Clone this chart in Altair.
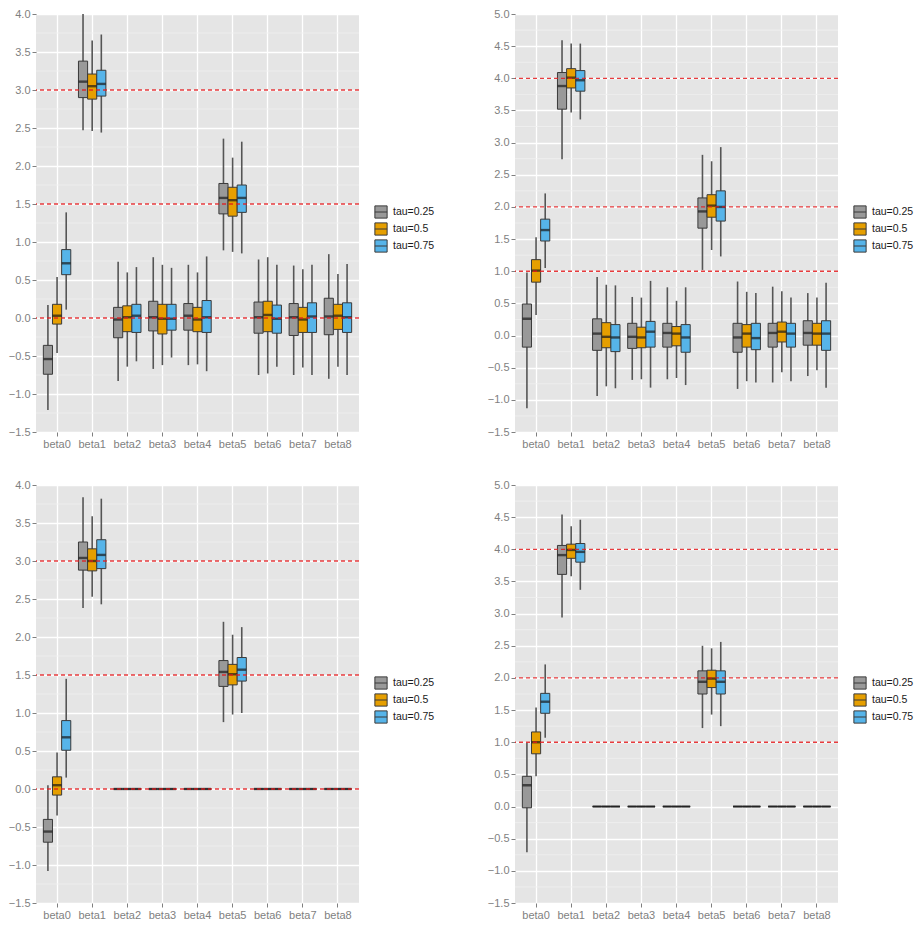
import altair as alt
import pandas as pd

BETAS = ["beta0", "beta1", "beta2", "beta3", "beta4", "beta5", "beta6", "beta7", "beta8"]
TAUS = ["tau=0.25", "tau=0.5", "tau=0.75"]
COLORS = ["#999999", "#E69F00", "#56B4E9"]

# each entry: (lower whisker, q1, median, q3, upper whisker)
Z = (0, 0, 0, 0, 0)

A_25 = [(-1.21, -0.74, -0.54, -0.36, 0.17), (2.47, 2.90, 3.11, 3.38, 4.0), (-0.83, -0.26, -0.02, 0.14, 0.74),
        (-0.67, -0.17, 0.01, 0.22, 0.80), (-0.62, -0.16, 0.03, 0.19, 0.70), (0.89, 1.37, 1.58, 1.77, 2.36),
        (-0.75, -0.20, 0.01, 0.21, 0.77), (-0.75, -0.23, 0.01, 0.19, 0.69), (-0.80, -0.22, 0.02, 0.26, 0.84)]
A_50 = [(-0.46, -0.08, 0.03, 0.18, 0.54), (2.46, 2.88, 3.05, 3.21, 3.65), (-0.64, -0.18, 0.01, 0.16, 0.60),
        (-0.62, -0.21, -0.01, 0.18, 0.70), (-0.61, -0.18, -0.02, 0.14, 0.60), (0.87, 1.34, 1.55, 1.72, 2.11),
        (-0.73, -0.18, 0.04, 0.22, 0.80), (-0.65, -0.19, -0.02, 0.14, 0.64), (-0.64, -0.15, 0.03, 0.18, 0.58)]
A_75 = [(0.11, 0.57, 0.72, 0.90, 1.39), (2.44, 2.92, 3.08, 3.26, 3.73), (-0.57, -0.19, 0.03, 0.18, 0.67),
        (-0.52, -0.16, -0.01, 0.18, 0.66), (-0.70, -0.19, 0.01, 0.23, 0.81), (0.85, 1.39, 1.58, 1.75, 2.32),
        (-0.64, -0.20, -0.01, 0.17, 0.70), (-0.75, -0.19, 0.02, 0.20, 0.70), (-0.75, -0.19, 0.01, 0.20, 0.71)]

B_25 = [(-1.13, -0.18, 0.26, 0.49, 0.98), (2.74, 3.52, 3.88, 4.09, 4.59), (-0.94, -0.23, 0.03, 0.26, 0.91),
        (-0.69, -0.20, -0.02, 0.19, 0.60), (-0.68, -0.18, 0.04, 0.19, 0.75), (1.02, 1.67, 1.93, 2.14, 2.81),
        (-0.83, -0.26, -0.03, 0.19, 0.84), (-0.73, -0.18, 0.04, 0.19, 0.76), (-0.63, -0.15, 0.04, 0.23, 0.66)]
B_50 = [(0.32, 0.83, 1.01, 1.18, 1.53), (3.47, 3.85, 4.01, 4.15, 4.54), (-0.79, -0.19, -0.02, 0.20, 0.79),
        (-0.68, -0.19, -0.03, 0.13, 0.59), (-0.66, -0.16, 0.03, 0.14, 0.54), (1.33, 1.84, 2.02, 2.19, 2.71),
        (-0.71, -0.18, 0.03, 0.17, 0.68), (-0.57, -0.10, 0.06, 0.21, 0.69), (-0.54, -0.15, 0.03, 0.19, 0.59)]
B_75 = [(1.05, 1.47, 1.64, 1.81, 2.21), (3.36, 3.80, 3.97, 4.12, 4.54), (-0.82, -0.25, -0.03, 0.17, 0.78),
        (-0.81, -0.18, 0.06, 0.22, 0.85), (-0.77, -0.26, -0.03, 0.17, 0.75), (1.23, 1.78, 2.00, 2.25, 2.93),
        (-0.73, -0.22, -0.04, 0.19, 0.66), (-0.71, -0.18, 0.03, 0.19, 0.59), (-0.81, -0.23, 0.03, 0.23, 0.82)]

C_25 = [(-1.08, -0.70, -0.56, -0.40, 0.05), (2.38, 2.88, 3.04, 3.25, 3.84), Z, Z, Z,
        (0.88, 1.35, 1.54, 1.69, 2.20), Z, Z, Z]
C_50 = [(-0.35, -0.08, 0.05, 0.16, 0.48), (2.53, 2.87, 3.00, 3.16, 3.59), Z, Z, Z,
        (0.98, 1.37, 1.51, 1.64, 2.03), Z, Z, Z]
C_75 = [(0.15, 0.51, 0.68, 0.90, 1.45), (2.43, 2.90, 3.08, 3.28, 3.82), Z, Z, Z,
        (1.00, 1.42, 1.57, 1.73, 2.13), Z, Z, Z]

D_25 = [(-0.71, -0.02, 0.33, 0.47, 0.99), (2.94, 3.61, 3.91, 4.06, 4.54), Z, Z, Z,
        (1.22, 1.75, 1.94, 2.11, 2.50), Z, Z, Z]
D_50 = [(0.47, 0.82, 1.00, 1.16, 1.54), (3.58, 3.86, 3.99, 4.08, 4.36), Z, Z, Z,
        (1.43, 1.85, 1.99, 2.12, 2.46), Z, Z, Z]
D_75 = [(1.07, 1.45, 1.63, 1.76, 2.21), (3.37, 3.80, 3.96, 4.09, 4.46), Z, Z, Z,
        (1.25, 1.75, 1.94, 2.11, 2.56), Z, Z, Z]

HLINES_AC = [0.0, 1.5, 3.0]
HLINES_BD = [1.0, 2.0, 4.0]

YTICKS_AC = [-1.5, -1.0, -0.5, 0.0, 0.5, 1.0, 1.5, 2.0, 2.5, 3.0, 3.5, 4.0]
YTICKS_BD = [-1.5, -1.0, -0.5, 0.0, 0.5, 1.0, 1.5, 2.0, 2.5, 3.0, 3.5, 4.0, 4.5, 5.0]
YMINOR_AC = [-1.25, -0.75, -0.25, 0.25, 0.75, 1.25, 1.75, 2.25, 2.75, 3.25, 3.75]
YMINOR_BD = [-1.25, -0.75, -0.25, 0.25, 0.75, 1.25, 1.75, 2.25, 2.75, 3.25, 3.75, 4.25, 4.75]

W, H = 323, 418


def frame(rows_by_tau):
    recs = []
    for tau, rows in zip(TAUS, rows_by_tau):
        for beta, (lo, q1, md, q3, hi) in zip(BETAS, rows):
            recs.append(dict(beta=beta, tau=tau, lo=lo, q1=q1, med=md, q3=q3, hi=hi))
    return pd.DataFrame(recs)


def panel(rows_by_tau, hlines, ymax, yticks, yminor):
    df = frame(rows_by_tau)
    x = alt.X("beta:N", sort=BETAS,
              scale=alt.Scale(paddingInner=0, paddingOuter=0.1),
              axis=alt.Axis(title=None, labelAngle=0, bandPosition=0.5, grid=True,
                            gridColor="white", gridWidth=1.3, domain=False,
                            tickColor="#7f7f7f", tickSize=4, tickWidth=1,
                            labelColor="#7f7f7f", labelFontSize=11, labelPadding=2))
    xo = alt.XOffset("tau:N", sort=TAUS, scale=alt.Scale(paddingInner=0, paddingOuter=0.42))
    ys = alt.Scale(domain=[-1.5, ymax], nice=False, zero=False)
    yax = alt.Axis(title=None, values=yticks, labelOverlap=False, format=".1f",
                   grid=True, gridColor="white", gridWidth=1.3,
                   tickColor="#7f7f7f", tickSize=4, tickWidth=1, domain=False,
                   labelColor="#7f7f7f", labelFontSize=11, labelPadding=2)
    base = alt.Chart(df)
    minor = alt.Chart(pd.DataFrame({"m": yminor})).mark_rule(
        color="#f0f0f0", strokeWidth=0.8).encode(y=alt.Y("m:Q", scale=ys, axis=yax))
    whisk = base.mark_rule(color="#555555", strokeWidth=1.6, clip=True).encode(
        x=x, xOffset=xo, y=alt.Y("lo:Q", scale=ys, axis=yax), y2="hi:Q")
    box = base.mark_bar(stroke="#3a3a3a", strokeWidth=1, clip=True, opacity=1).encode(
        x=x, xOffset=xo, y=alt.Y("q1:Q", scale=ys, axis=yax), y2="q3:Q",
        color=alt.Color("tau:N", sort=TAUS, scale=alt.Scale(domain=TAUS, range=COLORS),
                        legend=alt.Legend(title=None, orient="none", legendX=W + 15, legendY=191,
                                          symbolType="M-1,-1H1V1H-1Z M-1,0H1", symbolSize=150,
                                          symbolStrokeColor="#3a3a3a", symbolStrokeWidth=1,
                                          symbolOpacity=1, labelFontSize=10.5, labelColor="#1a1a1a",
                                          labelOffset=5, rowPadding=-1, padding=0)))
    med = base.mark_tick(color="#1a1a1a", thickness=2.4, size=9, clip=True).encode(
        x=x, xOffset=xo, y=alt.Y("med:Q", scale=ys, axis=yax))
    hl = alt.Chart(pd.DataFrame({"v": hlines})).mark_rule(
        color="#e31a1c", strokeDash=[4, 3], strokeWidth=1.3, opacity=0.85).encode(
        y=alt.Y("v:Q", scale=ys, axis=yax))
    return alt.layer(minor, whisk, box, med, hl).properties(width=W, height=H)


pA = panel([A_25, A_50, A_75], HLINES_AC, 4.0, YTICKS_AC, YMINOR_AC)
pB = panel([B_25, B_50, B_75], HLINES_BD, 5.0, YTICKS_BD, YMINOR_BD)
pC = panel([C_25, C_50, C_75], HLINES_AC, 4.0, YTICKS_AC, YMINOR_AC)
pD = panel([D_25, D_50, D_75], HLINES_BD, 5.0, YTICKS_BD, YMINOR_BD)

top = alt.hconcat(pA, pB, spacing=52).resolve_scale(color="independent", y="independent")
bottom = alt.hconcat(pC, pD, spacing=52).resolve_scale(color="independent", y="independent")

chart = (
    alt.vconcat(top, bottom, spacing=30)
    .resolve_scale(color="independent", y="independent")
    .properties(padding=0)
    .configure(font="Liberation Sans")
    .configure_axis(labelOverlap=False)
    .configure_view(fill="#E5E5E5", stroke=None)
)

chart.save("out.html", embed_options={"renderer": "svg", "actions": False})
